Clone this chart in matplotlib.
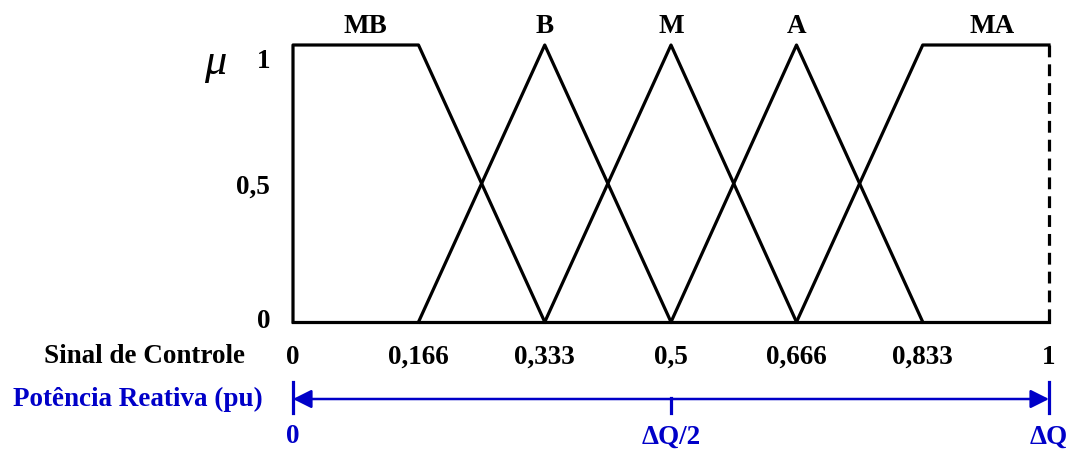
import matplotlib
matplotlib.use("Agg")
import matplotlib.pyplot as plt

# membership function breakpoints (Sinal de Controle)
breaks = [0, 0.166, 0.333, 0.5, 0.666, 0.833, 1]
break_labels = ["0", "0,166", "0,333", "0,5", "0,666", "0,833", "1"]
set_names = ["MB", "B", "M", "A", "MA"]
mu_ticks = [0, 0.5, 1]
mu_labels = ["0", "0,5", "1"]
q_ticks = [0, 0.5, 1]
q_labels = ["0", "ΔQ/2", "ΔQ"]

FONT = "Liberation Serif"
BLUE = "#0000c8"
LW = 2.3

fig = plt.figure(figsize=(10.71, 4.5), dpi=100)
ax = fig.add_axes([293 / 1071, 128 / 450, 756 / 1071, 277 / 450])
ax.set_xlim(0, 1)
ax.set_ylim(0, 1)
ax.axis("off")

b = breaks
# MB trapezoid
ax.plot([b[0], b[0], b[1], b[2]], [0, 1, 1, 0], color="black", lw=LW, clip_on=False)
# triangles B, M, A
for i in range(1, 4):
    ax.plot([b[i], b[i + 1], b[i + 2]], [0, 1, 0], color="black", lw=LW, clip_on=False)
# MA trapezoid
ax.plot([b[4], b[5], b[6]], [0, 1, 1], color="black", lw=LW, clip_on=False)
ax.plot([b[6], b[6]], [1, 0], color="black", lw=LW, ls=(0, (3.7, 2.2)), clip_on=False)
# baseline
ax.plot([0, 1], [0, 0], color="black", lw=LW, clip_on=False)

tkw = dict(family=FONT, fontweight="bold", fontsize=19.5)
label_x = [0.096, 0.333, 0.5, 0.666, 0.925]
for name, x in zip(set_names, label_x):
    ax.text(x, 1.065, name, ha="center", va="center", **tkw)

mu_label_y = [0.0, 0.487, 0.94]
for y, lab in zip(mu_label_y, mu_labels):
    ax.text(-0.03, y, lab, ha="right", va="center", **tkw)
ax.text(-0.103, 0.935, "μ", ha="center", va="center", family=FONT,
        style="italic", fontsize=32)

for x, lab in zip(breaks, break_labels):
    ax.text(x, -0.127, lab, ha="center", va="center", **tkw)
ax.text(-0.064, -0.125, "Sinal de Controle", ha="right", va="center", **tkw)

# reactive power axis
yq = -0.278
ax.annotate("", xy=(0, yq), xytext=(1, yq),
            arrowprops=dict(arrowstyle="<|-|>,head_length=0.7,head_width=0.35",
                            color=BLUE, lw=1.8, mutation_scale=16,
                            shrinkA=0, shrinkB=0),
            annotation_clip=False)
for x in q_ticks:
    if x in (0, 1):
        y0, y1 = yq + 0.06, yq - 0.05
    else:
        y0, y1 = yq + 0.005, yq - 0.05
    ax.plot([x, x], [y0, y1], color=BLUE, lw=2.3, clip_on=False)
for x, lab in zip(q_ticks, q_labels):
    ax.text(x, -0.415, lab, ha="center", va="center", color=BLUE, **tkw)
ax.text(-0.04, -0.28, "Potência Reativa (pu)", ha="right", va="center",
        color=BLUE, **tkw)

fig.savefig("out.png", dpi=100, facecolor="white")
